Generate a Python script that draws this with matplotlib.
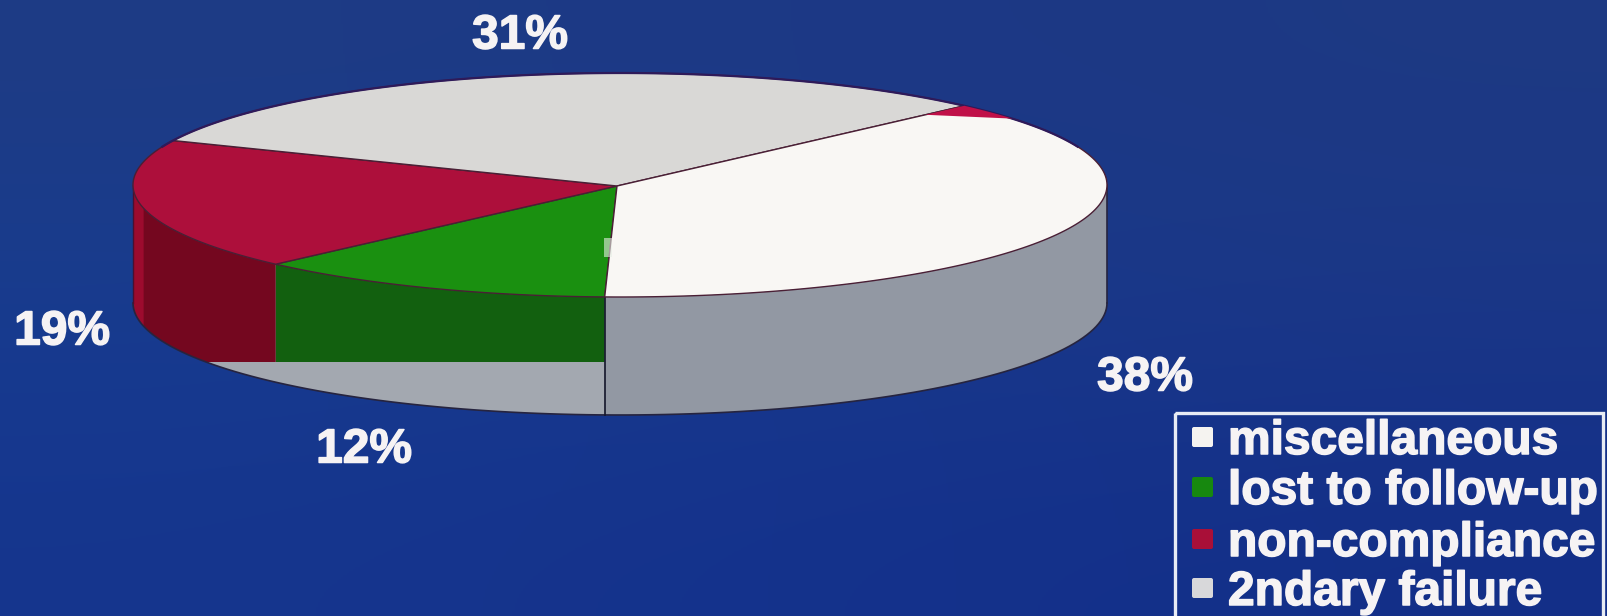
import numpy as np
import matplotlib
matplotlib.use("Agg")
import matplotlib.pyplot as plt
import matplotlib.patheffects as pe
from matplotlib.patches import FancyBboxPatch, Polygon, Rectangle

# Shares in percent, listed clockwise from the front of the disc
categories = ["lost to follow-up", "non-compliance", "2ndary failure", "miscellaneous"]
values = [12, 19, 31, 38]
top_colors = ["#1A9010", "#AD0F3B", "#D9D8D6", "#F9F7F4"]
wall_colors = ["#12600F", "#74071F", "#999EA8", "#9298A3"]
label_pos = [(364, 450), (62, 332), (520, 36), (1145, 378)]

# The small red fleck at the back edge of the white slice
fleck_share = 2.4

legend_labels = ["miscellaneous", "lost to follow-up", "non-compliance", "2ndary failure"]
legend_colors = ["#F5F3F0", "#17880F", "#A90F38", "#D8D8DA"]
legend_baselines = [454, 504, 556, 605]

W, H = 1608, 616
CX, CY, RX, RY = 620, 185, 487, 112
APEX = (617, 186)
DEPTH = 118
START = 268.2
CUT_Y = 362
OUTLINE = "#4A1F35"

plt.rcParams["font.family"] = ["Liberation Sans", "DejaVu Sans"]

fig = plt.figure(figsize=(W / 100, H / 100), dpi=100)
ax = fig.add_axes([0, 0, 1, 1])

# Soft blue backdrop
backdrop = np.array([
    [[0.118, 0.235, 0.520], [0.110, 0.220, 0.525], [0.115, 0.225, 0.515]],
    [[0.090, 0.235, 0.565], [0.095, 0.225, 0.550], [0.105, 0.215, 0.530]],
    [[0.085, 0.210, 0.555], [0.080, 0.195, 0.550], [0.075, 0.185, 0.535]],
])
ax.imshow(backdrop, extent=(0, W, H, 0), interpolation="bicubic", aspect="auto", zorder=0)


def rim(a0, a1, dy=0.0, n=120):
    t = np.radians(np.linspace(a0, a1, n))
    return np.column_stack([CX + RX * np.cos(t), CY - RY * np.sin(t) + dy])


def wall(a0, a1, color, clip=True, z=2):
    top = rim(a0, a1)
    bottom = rim(a1, a0, DEPTH)
    p = Polygon(np.vstack([top, bottom]), closed=True, fc=color, ec="none", zorder=z)
    ax.add_patch(p)
    if clip:
        p.set_clip_path(Rectangle((0, 0), W, CUT_Y, transform=ax.transData))
    return p


# Slice spans, going clockwise from the front
spans = []
angle = START
for v in values:
    spans.append((angle, angle - v * 3.6))
    angle -= v * 3.6

# Side wall: a grey base, with the coloured sections cut off flat above it
wall(180, 360, "#A3A8B0", clip=False, z=1)
wall(START - 360, 0, wall_colors[3], clip=False, z=2)
wall(spans[0][1], spans[0][0], wall_colors[0], z=2)
wall(180, spans[0][1], wall_colors[1], z=2)
wall(180, 192, "#9C0B2E", z=3)

outer = rim(180, 360, DEPTH)
ax.plot(outer[:, 0], outer[:, 1], color="#26243F", lw=1.2, zorder=4)
ax.plot([CX + RX, CX + RX], [CY, CY + DEPTH], color="#26243F", lw=1.2, zorder=4)
ax.plot([CX - RX, CX - RX], [CY, CY + DEPTH], color="#4A1030", lw=1.0, zorder=4)
front = rim(START, START)[0]
ax.plot([front[0], front[0]], [front[1], front[1] + DEPTH], color="#14162A", lw=1.2, zorder=4)

# Top face of each slice
for (a0, a1), color in zip(spans, top_colors):
    pts = np.vstack([[APEX], rim(a0, a1)])
    ax.add_patch(Polygon(pts, closed=True, fc=color, ec=OUTLINE, lw=1.0,
                         joinstyle="round", zorder=5))

# Darker line along the far edge of the disc
far = rim(20, 160)
ax.plot(far[:, 0], far[:, 1], color="#2E1A5A", lw=1.6, zorder=5.5)

# Fleck between the two pale slices
back = spans[2][1]
arc = rim(back, back - fleck_share * 3.6, n=30)
tip = (APEX[0] + 0.888 * (arc[0, 0] - APEX[0]), APEX[1] + 0.888 * (arc[0, 1] - APEX[1]))
ax.add_patch(Polygon(np.vstack([arc, [tip]]), closed=True, fc="#C01048", ec="none", zorder=6))

# Pale smudge on the green and white edge
ax.add_patch(Rectangle((604, 238), 8, 19, fc="#E6EDE4", ec="none", alpha=0.6, zorder=7))

heavy = [pe.withStroke(linewidth=1.1, foreground="#F6F3F4")]

# Percentage labels
for v, (x, y) in zip(values, label_pos):
    ax.text(x, y, f"{v}%", color="#F6F3F4", fontsize=34.5, fontweight="bold",
            ha="center", va="center", zorder=8, path_effects=heavy)

# Legend box, running off the lower edge
ax.add_patch(Rectangle((1175, 413), 428, 240, fc="none", ec="#E8ECF4", lw=2.4, zorder=8))
for label, color, base in zip(legend_labels, legend_colors, legend_baselines):
    ax.add_patch(FancyBboxPatch((1194, base - 25), 17, 16, boxstyle="round,pad=2",
                                fc=color, ec="none", zorder=8))
    ax.text(1228, base, label, color="#F6F3F4", fontsize=34.5, fontweight="bold",
            ha="left", va="baseline", zorder=8, path_effects=heavy)

ax.set_xlim(0, W)
ax.set_ylim(H, 0)
ax.axis("off")
fig.savefig("out.png", dpi=100)
